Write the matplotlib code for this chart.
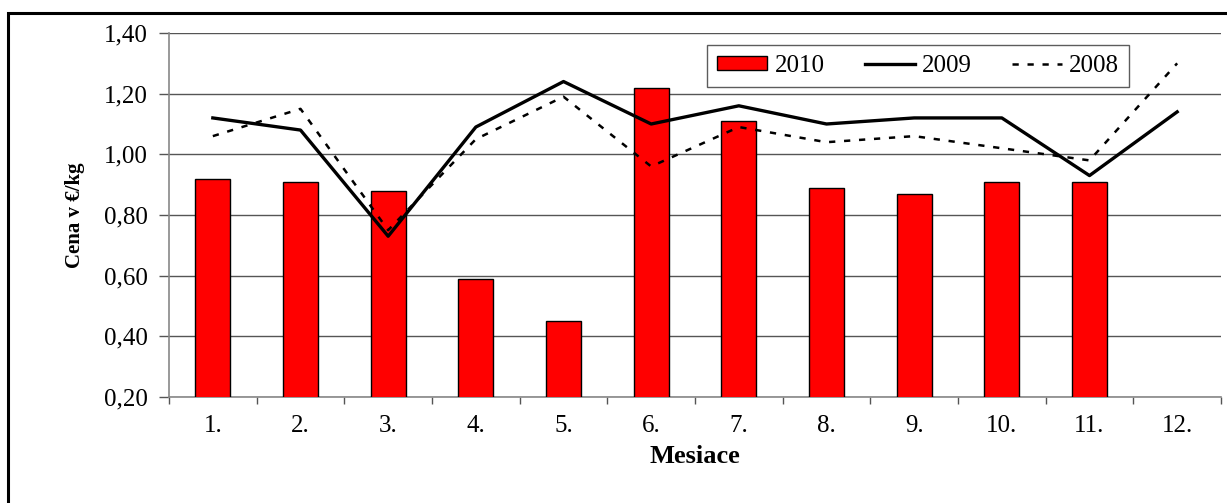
import matplotlib
matplotlib.use("Agg")
import matplotlib.pyplot as plt
from matplotlib.patches import Rectangle
import numpy as np

# Monthly prices in EUR/kg
months = ["1.", "2.", "3.", "4.", "5.", "6.", "7.", "8.", "9.", "10.", "11.", "12."]
price_2010 = [0.92, 0.91, 0.88, 0.59, 0.45, 1.22, 1.11, 0.89, 0.87, 0.91, 0.91, np.nan]
price_2009 = [1.12, 1.08, 0.73, 1.09, 1.24, 1.10, 1.16, 1.10, 1.12, 1.12, 0.93, 1.14]
price_2008 = [1.06, 1.15, 0.75, 1.05, 1.19, 0.96, 1.09, 1.04, 1.06, 1.02, 0.98, 1.30]
yticks = [0.20, 0.40, 0.60, 0.80, 1.00, 1.20, 1.40]

serif = ["Liberation Serif", "DejaVu Serif"]

fig = plt.figure(figsize=(12.27, 5.03), dpi=100)
ax = fig.add_axes([169 / 1227, 1 - 397 / 503, (1221 - 169) / 1227, (397 - 33) / 503])

x = np.arange(len(months))
bars = ax.bar(x, price_2010, width=0.40, color="#ff0000", edgecolor="black",
              linewidth=1.0, label="2010", zorder=3)
line09, = ax.plot(x, price_2009, color="black", linewidth=2.4, label="2009", zorder=4)
line08, = ax.plot(x, price_2008, color="black", linewidth=1.8, linestyle=(0, (2.5, 3.5)),
                  label="2008", zorder=4)

ax.set_xlim(-0.5, len(months) - 0.5)
ax.set_ylim(0.2, 1.4)
ax.set_yticks(yticks)
ax.set_yticklabels([f"{v:.2f}".replace(".", ",") for v in yticks],
                   fontfamily=serif, fontsize=18)
ax.yaxis.grid(True, color="#555555", linewidth=1.0, zorder=0)
ax.set_axisbelow(True)

ax.set_xticks(x)
ax.set_xticklabels(months, fontfamily=serif, fontsize=18)
ax.set_xticks(np.arange(-0.5, len(months)), minor=True)
ax.tick_params(axis="x", which="major", length=0, pad=13)
ax.tick_params(axis="x", which="minor", length=5, width=1.0, color="#555555", direction="out")
ax.tick_params(axis="y", length=7, width=1.0, color="#555555", pad=8)

for side in ("top", "right"):
    ax.spines[side].set_visible(False)
for side in ("left", "bottom"):
    ax.spines[side].set_color("#888888")
    ax.spines[side].set_linewidth(1.2)

ax.set_xlabel("Mesiace", fontfamily=serif, fontsize=19, fontweight="bold", labelpad=6)
ax.set_ylabel("Cena v €/kg", fontfamily=serif, fontsize=15, fontweight="bold", labelpad=14)

leg = ax.legend(handles=[bars, line09, line08],
                loc="upper left", bbox_to_anchor=((707 - 169) / 1052, (397 - 45) / 364),
                ncol=3, frameon=True, fancybox=False, prop={"family": serif, "size": 18},
                handlelength=2.0, handleheight=0.45, handletextpad=0.3,
                columnspacing=1.6, borderpad=0.4, borderaxespad=0)
leg.get_frame().set_edgecolor("#333333")
leg.get_frame().set_linewidth(1.0)

# outer frame around the chart area
fig.patches.append(Rectangle((8 / 1227, -0.1), 1.2, 1 - 13 / 503 + 0.1,
                             transform=fig.transFigure, fill=False,
                             edgecolor="black", linewidth=2.2, clip_on=False))

fig.savefig("out.png", dpi=100)
